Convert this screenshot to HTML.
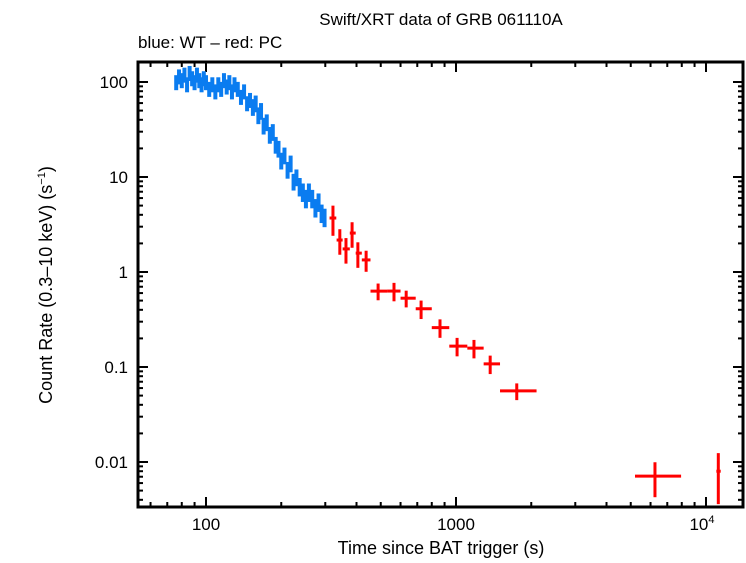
<!DOCTYPE html>
<html><head><meta charset="utf-8"><style>
body{margin:0;background:#fff;width:746px;height:558px;overflow:hidden}
text{font-family:"Liberation Sans",sans-serif;fill:#000}
</style></head><body>
<svg id="chart" width="746" height="558" viewBox="0 0 746 558" xmlns="http://www.w3.org/2000/svg">
<text x="441" y="25" font-size="17" text-anchor="middle">Swift/XRT data of GRB 061110A</text>
<text x="138" y="48" font-size="17">blue: WT – red: PC</text>
<text x="441" y="554" font-size="18" text-anchor="middle">Time since BAT trigger (s)</text>
<text transform="translate(52,285) rotate(-90)" font-size="18" text-anchor="middle">Count Rate (0.3–10 keV) (s<tspan font-size="11" dy="-7">−1</tspan><tspan dy="7">)</tspan></text>
<g id="ticks"></g>
<g id="blue"></g>
<g id="red"></g>
<rect x="138" y="62" width="605" height="445" fill="none" stroke="#000" stroke-width="3"/>
</svg>
<script>
// WT (blue) data: time, rate, rel error
const wtTime=[76,78,80,82,84,86,88,90,92,94,96,98,100,103,106,109,112,115,118,121,124,127,130,134,138,142,146,150,154,158,162,166,170,175,180,185,190,195,200,206,212,218,224,230,237,244,251,258,266,274,282,290,298];
const wtRate=[100,115,105,120,95,125,110,100,120,105,95,110,100,85,95,80,95,85,105,90,100,80,95,85,70,80,60,65,55,60,45,50,35,38,28,30,22,20,15,17,12,14,9,10,8,7,6,7,6,4.8,5.5,4.2,3.8];
const wtErr=[0.18,0.18,0.18,0.18,0.18,0.18,0.18,0.18,0.18,0.18,0.18,0.18,0.18,0.18,0.18,0.18,0.18,0.18,0.18,0.18,0.18,0.18,0.18,0.18,0.18,0.18,0.18,0.18,0.2,0.2,0.2,0.2,0.2,0.2,0.2,0.2,0.2,0.2,0.2,0.2,0.2,0.2,0.2,0.2,0.22,0.22,0.22,0.22,0.22,0.22,0.22,0.22,0.22];
// PC (red) data
const pcTime=[322,343,363,384,405,437,488,565,632,725,863,1010,1180,1370,1750,6250,11200];
const pcTLo=[312,333,352,376,397,420,455,530,600,690,800,940,1110,1290,1500,5200,11000];
const pcTHi=[332,352,376,397,420,455,530,600,690,800,940,1110,1290,1500,2100,7950,11450];
const pcRate=[3.7,2.17,1.75,2.57,1.58,1.34,0.63,0.63,0.53,0.41,0.26,0.166,0.158,0.108,0.056,0.0071,0.008];
const pcRelErr=[0.35,0.3,0.3,0.3,0.3,0.25,0.2,0.22,0.2,0.22,0.22,0.22,0.22,0.22,0.2,0.4,0.55];
const xTicks=[100,1000,10000];
const yTicks=[100,10,1,0.1,0.01];
const yLabels=["100","10","1","0.1","0.01"];

const X=t=>206+250*(Math.log10(t)-2);
const Y=v=>272-95*Math.log10(v);
const NS="http://www.w3.org/2000/svg";
function mk(p,tag,a){const e=document.createElementNS(NS,tag);for(const k in a)e.setAttribute(k,a[k]);p.appendChild(e);return e;}
const tg=document.getElementById('ticks');
// x ticks
for(let d=1;d<=4;d++){for(let m=1;m<10;m++){const t=m*Math.pow(10,d);const x=X(t);if(x<139||x>742)continue;const L=m==1?10:5;
 const a=mk(tg,'line',{x1:x,x2:x,y1:507,y2:507-L,stroke:'#000','stroke-width':2});
 const b=mk(tg,'line',{x1:x,x2:x,y1:62,y2:62+L,stroke:'#000','stroke-width':2});}}
for(let d=-3;d<=2;d++){for(let m=1;m<10;m++){const v=m*Math.pow(10,d);const y=Y(v);if(y<63||y>506)continue;const L=m==1?10:5;
 const a=mk(tg,'line',{x1:138,x2:138+L,y1:y,y2:y,stroke:'#000','stroke-width':2});
 const b=mk(tg,'line',{x1:743,x2:743-L,y1:y,y2:y,stroke:'#000','stroke-width':2});}}
[100,1000].forEach(t=>{const e=mk(tg,'text',{x:X(t),y:530,'font-size':17,'text-anchor':'middle'});e.textContent=String(t);});
{const e=mk(tg,'text',{x:X(10000)-4,y:530,'font-size':17,'text-anchor':'middle'});e.innerHTML='10<tspan font-size="11" dy="-7">4</tspan>';}
yTicks.forEach((v,i)=>{const e=mk(tg,'text',{x:128,y:Y(v)+6,'font-size':17,'text-anchor':'end'});e.textContent=yLabels[i];});
// blue
const bg=document.getElementById('blue');
wtTime.forEach((t,i)=>{const v=wtRate[i],e=wtErr[i];const x=X(t);
 const g=mk(bg,'g',{});
 mk(g,'line',{x1:x,x2:x,y1:Y(v*(1+e)),y2:Y(v*(1-e)),stroke:'#0a7cf0','stroke-width':4});
 const dt=t*0.012;mk(g,'line',{x1:X(t-dt),x2:X(t+dt),y1:Y(v),y2:Y(v),stroke:'#0a7cf0','stroke-width':4});});
// red
const rg=document.getElementById('red');
pcTime.forEach((t,i)=>{const v=pcRate[i],e=pcRelErr[i];const x=X(t);
 const g=mk(rg,'g',{});
 mk(g,'line',{x1:x,x2:x,y1:Y(v*(1+e)),y2:Y(v*(1-e)),stroke:'#f00','stroke-width':3});
 mk(g,'line',{x1:X(pcTLo[i]),x2:X(pcTHi[i]),y1:Y(v),y2:Y(v),stroke:'#f00','stroke-width':3});});
</script>
</body></html>
